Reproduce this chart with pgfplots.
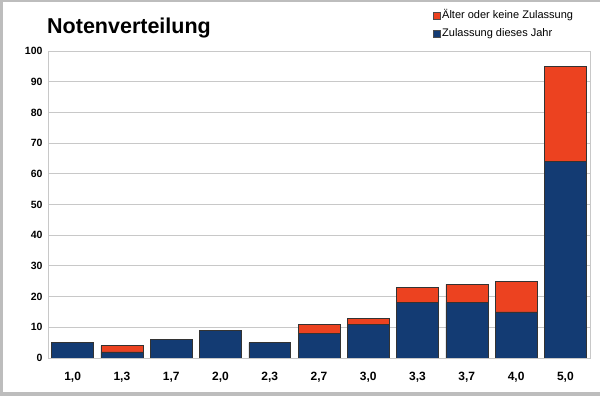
\documentclass[border=0pt]{standalone}
\usepackage{pgfplots}
\pgfplotsset{compat=1.18}
\usepackage{fontspec}
\setmainfont{Liberation Sans}
\definecolor{barblue}{HTML}{133B73}
\definecolor{barred}{HTML}{EC4220}
\definecolor{gridgray}{HTML}{C8C8C8}
\definecolor{framegray}{HTML}{BDBDBD}
\begin{document}
\begin{tikzpicture}[x=1pt,y=1pt]
\path[use as bounding box] (0,0) rectangle (600,396);
\fill[framegray] (0,0) rectangle (600,4);
\fill[framegray] (0,0) rectangle (3,396);
\fill[framegray] (0,394) rectangle (600,396);
\node[anchor=base west,font=\fontsize{21.5}{24}\selectfont\bfseries,inner sep=0pt] at (47,362) {Notenverteilung};
\begin{axis}[
  at={(48pt,38pt)}, anchor=south west,
  scale only axis, width=542pt, height=307pt,
  ybar stacked, bar width=0.85,
  xmin=-0.5, xmax=10.5, ymin=0, ymax=100,
  xtick={0,...,10},
  xticklabels={{1,0},{1,3},{1,7},{2,0},{2,3},{2,7},{3,0},{3,3},{3,7},{4,0},{5,0}},
  ytick={0,10,...,100},
  ymajorgrids, grid style={gridgray, line width=0.8pt},
  axis line style={gridgray, line width=0.8pt},
  major tick length=0pt,
  yticklabel style={font=\fontsize{10.5}{12}\selectfont\bfseries, xshift=-2pt},
  xticklabel style={font=\fontsize{12}{14}\selectfont\bfseries, yshift=-11pt},
  /pgf/number format/assume math mode=true,
]
\addplot[fill=barblue, draw=black!80, line width=0.5pt] coordinates {
 (0,5) (1,2) (2,6) (3,9) (4,5) (5,8) (6,11) (7,18) (8,18) (9,15) (10,64)};
\addplot[fill=barred, draw=black!80, line width=0.5pt] coordinates {
 (0,0) (1,2) (2,0) (3,0) (4,0) (5,3) (6,2) (7,5) (8,6) (9,10) (10,31)};
\end{axis}
% legend
\fill[barred, draw=black!70, line width=0.4pt] (433,377) rectangle (440,384);
\node[anchor=base west, inner sep=0pt, font=\fontsize{11}{13}\selectfont] at (442,377) {Älter oder keine Zulassung};
\fill[barblue, draw=black!70, line width=0.4pt] (433,359) rectangle (440,366);
\node[anchor=base west, inner sep=0pt, font=\fontsize{11}{13}\selectfont] at (442,359) {Zulassung dieses Jahr};
\end{tikzpicture}
\end{document}
